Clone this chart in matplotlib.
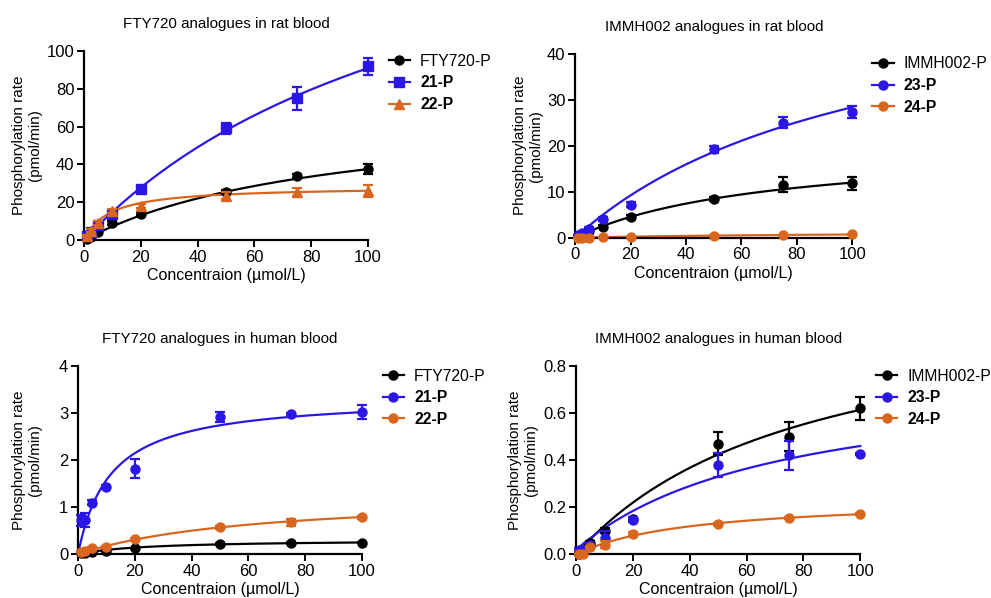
import numpy as np
import matplotlib
matplotlib.use("Agg")
import matplotlib.pyplot as plt

plt.rcParams['font.family'] = ['Liberation Sans', 'DejaVu Sans']

conc = [1, 2.5, 5, 10, 20, 50, 75, 100]

BLACK = '#000000'
BLUE = '#2a17e6'
ORANGE = '#d9661f'

# Panel 1: FTY720 analogues in rat blood
p1_fty = [0.6, 1.5, 4, 9, 14, 25.5, 34, 37.5]
p1_fty_err = [0.3, 0.5, 0.8, 1, 1, 1, 1, 2.5]
p1_21 = [2, 4, 8, 14, 27, 59, 75, 92]
p1_21_err = [0.5, 0.8, 1, 1.2, 1.5, 3, 6, 4.5]
p1_22 = [2, 5, 9, 15.5, 18, 23.5, 25.5, 26]
p1_22_err = [0.5, 0.8, 1, 1, 1, 2, 2, 3]
p1_fit_vmax = [70.8, 211, 28.4]
p1_fit_km = [88.7, 132, 9]

# Panel 2: IMMH002 analogues in rat blood
p2_imm = [0.3, 0.7, 1.5, 2.4, 4.5, 8.4, 11.5, 11.8]
p2_imm_err = [0.1, 0.2, 0.3, 0.3, 0.4, 0.5, 1.6, 1.5]
p2_23 = [0.5, 1, 2, 4, 7.2, 19.2, 25, 27.4]
p2_23_err = [0.1, 0.2, 0.3, 0.4, 0.5, 0.8, 1.2, 1.3]
p2_24 = [0, 0, 0.02, 0.05, 0.1, 0.4, 0.5, 0.7]
p2_24_err = [0, 0, 0, 0, 0, 0.1, 0.1, 0.1]
p2_fit_vmax = [20.3, 59, 1.4]
p2_fit_km = [69.5, 108, 100]

# Panel 3: FTY720 analogues in human blood
p3_fty = [0.02, 0.03, 0.05, 0.08, 0.13, 0.22, 0.24, 0.25]
p3_fty_err = [0.01, 0.01, 0.01, 0.01, 0.01, 0.02, 0.02, 0.02]
p3_21 = [0.72, 0.72, 1.1, 1.43, 1.82, 2.92, 2.97, 3.02]
p3_21_err = [0.12, 0.15, 0.05, 0.05, 0.2, 0.1, 0.04, 0.15]
p3_22 = [0.05, 0.07, 0.13, 0.15, 0.32, 0.57, 0.68, 0.79]
p3_22_err = [0.01, 0.01, 0.02, 0.02, 0.02, 0.03, 0.08, 0.03]
p3_fit_vmax = [0.31, 3.36, 1.29]
p3_fit_km = [23.5, 11.3, 62.9]

# Panel 4: IMMH002 analogues in human blood
p4_imm = [0.0, 0.01, 0.047, 0.1, 0.15, 0.47, 0.5, 0.62]
p4_imm_err = [0.005, 0.005, 0.01, 0.01, 0.01, 0.05, 0.06, 0.05]
p4_23 = [0.02, 0.02, 0.04, 0.07, 0.147, 0.38, 0.42, 0.425]
p4_23_err = [0.005, 0.005, 0.01, 0.03, 0.01, 0.05, 0.06, 0.005]
p4_24 = [0.0, 0.0, 0.03, 0.04, 0.088, 0.13, 0.155, 0.17]
p4_24_err = [0.0, 0.0, 0.005, 0.015, 0.005, 0.005, 0.005, 0.005]
p4_fit_vmax = [1.11, 0.757, 0.239]
p4_fit_km = [80.8, 72, 40.4]
p4_fit_offset = [0.0, 0.02, 0.0]

panels = [
    dict(rect=[0.0848, 0.5987, 0.2865, 0.3160], title="FTY720 analogues in rat blood",
         ylim=(0, 100), yticks=[0, 20, 40, 60, 80, 100], yfmt="{:g}", lx=-0.148, legx=1.073,
         series=[("FTY720-P", p1_fty, p1_fty_err, BLACK, 'o', 'normal'),
                 ("21-P", p1_21, p1_21_err, BLUE, 's', 'bold'),
                 ("22-P", p1_22, p1_22_err, ORANGE, '^', 'bold')],
         vmax=p1_fit_vmax, km=p1_fit_km, off=[0, 0, 0]),
    dict(rect=[0.5805, 0.6025, 0.2795, 0.3077], title="IMMH002 analogues in rat blood",
         ylim=(0, 40), yticks=[0, 10, 20, 30, 40], yfmt="{:g}", lx=-0.117, legx=1.073,
         series=[("IMMH002-P", p2_imm, p2_imm_err, BLACK, 'o', 'normal'),
                 ("23-P", p2_23, p2_23_err, BLUE, 'o', 'bold'),
                 ("24-P", p2_24, p2_24_err, ORANGE, 'o', 'bold')],
         vmax=p2_fit_vmax, km=p2_fit_km, off=[0, 0, 0]),
    dict(rect=[0.0787, 0.0731, 0.2866, 0.3149], title="FTY720 analogues in human blood",
         ylim=(0, 4), yticks=[0, 1, 2, 3, 4], yfmt="{:g}", lx=-0.127, legx=1.073,
         series=[("FTY720-P", p3_fty, p3_fty_err, BLACK, 'o', 'normal'),
                 ("21-P", p3_21, p3_21_err, BLUE, 'o', 'bold'),
                 ("22-P", p3_22, p3_22_err, ORANGE, 'o', 'bold')],
         vmax=p3_fit_vmax, km=p3_fit_km, off=[0, 0, 0]),
    dict(rect=[0.5815, 0.0731, 0.2866, 0.3149], title="IMMH002 analogues in human blood",
         ylim=(0, 0.8), yticks=[0, 0.2, 0.4, 0.6, 0.8], yfmt="{:.1f}", lx=-0.135, legx=1.055,
         series=[("IMMH002-P", p4_imm, p4_imm_err, BLACK, 'o', 'normal'),
                 ("23-P", p4_23, p4_23_err, BLUE, 'o', 'bold'),
                 ("24-P", p4_24, p4_24_err, ORANGE, 'o', 'bold')],
         vmax=p4_fit_vmax, km=p4_fit_km, off=p4_fit_offset),
]

fig = plt.figure(figsize=(9.91, 5.98), dpi=100)
xs = np.linspace(0, 100, 300)

for p in panels:
    ax = fig.add_axes(p['rect'])
    handles = []
    for i, (name, y, e, col, mk, wt) in enumerate(p['series']):
        ycurve = p['off'][i] + p['vmax'][i] * xs / (p['km'][i] + xs)
        ax.plot(xs, ycurve, color=col, lw=1.6, clip_on=False, zorder=2 + i * 0.1)
        ax.errorbar(conc, y, yerr=e, fmt=mk, color=col, ms=6.5, capsize=3.5,
                    elinewidth=1.6, capthick=1.6, clip_on=False, zorder=3 + i * 0.1)
        h, = ax.plot([], [], color=col, marker=mk, ms=6.5, lw=1.6)
        handles.append(h)
    ax.set_xlim(0, 100)
    ax.set_ylim(*p['ylim'])
    ax.set_xticks([0, 20, 40, 60, 80, 100])
    ax.set_yticks(p['yticks'])
    ax.set_yticklabels([p['yfmt'].format(v) for v in p['yticks']])
    for s in ['top', 'right']:
        ax.spines[s].set_visible(False)
    for s in ['left', 'bottom']:
        ax.spines[s].set_linewidth(1.6)
    ax.tick_params(axis='both', direction='out', length=5, width=1.4, labelsize=12, pad=2)
    ax.set_xlabel("Concentraion (µmol/L)", fontsize=11.5, labelpad=2.5)
    ax.set_ylabel("Phosphorylation rate\n(pmol/min)", fontsize=11, linespacing=1.2)
    ax.yaxis.set_label_coords(p['lx'], 0.5)
    ax.set_title(p['title'], fontsize=10.9, pad=16.5)
    leg = ax.legend(handles, [s[0] for s in p['series']], loc='upper left',
                    bbox_to_anchor=(p['legx'], 0.985), frameon=False, fontsize=11.3,
                    handlelength=1.35, handletextpad=0.65, labelspacing=0.42,
                    borderpad=0, borderaxespad=0)
    for t, s in zip(leg.get_texts(), p['series']):
        t.set_fontweight(s[5])

fig.savefig("out.png", dpi=100)
